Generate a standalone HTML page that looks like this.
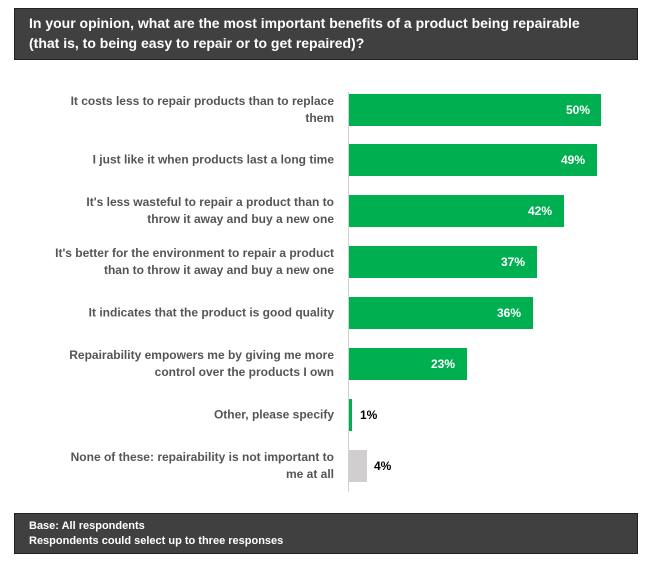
<!DOCTYPE html>
<html><head><style>
body{margin:0;width:654px;height:570px;background:#fff;font-family:"Liberation Sans",sans-serif;position:relative;overflow:hidden}
.box{position:absolute;left:14px;width:624px;background:#404040;border:1px solid #222;color:#fff;font-weight:bold}
.lab{position:absolute;right:320px;width:330px;text-align:right;color:#555;font-size:12px;font-weight:bold;line-height:17px;transform:translateY(-50%);white-space:nowrap}
.bar{position:absolute;left:349px;height:32px}
.v{position:absolute;font-size:12px;font-weight:bold;transform:translateY(-50%)}
</style></head><body>
<div class="box" style="top:8px;height:52px;font-size:14px;line-height:20px;padding:4px 0 0 14px;box-sizing:border-box">In your opinion, what are the most important benefits of a product being repairable<br>(that is, to being easy to repair or to get repaired)?</div>
<div style="position:absolute;left:348px;top:92px;width:1px;height:400px;background:#d0d0d0"></div>

<div class="lab" style="top:110px">It costs less to repair products than to replace<br>them</div>
<div class="bar" style="top:94px;width:252px;background:#00b050"></div><div class="v" style="top:110px;left:566px;color:#fff">50%</div>

<div class="lab" style="top:160px">I just like it when products last a long time</div>
<div class="bar" style="top:144px;width:248px;background:#00b050"></div><div class="v" style="top:160px;left:561px;color:#fff">49%</div>

<div class="lab" style="top:211px">It's less wasteful to repair a product than to<br>throw it away and buy a new one</div>
<div class="bar" style="top:195px;width:215px;background:#00b050"></div><div class="v" style="top:211px;left:528px;color:#fff">42%</div>

<div class="lab" style="top:262px">It's better for the environment to repair a product<br>than to throw it away and buy a new one</div>
<div class="bar" style="top:246px;width:188px;background:#00b050"></div><div class="v" style="top:262px;left:501px;color:#fff">37%</div>

<div class="lab" style="top:313px">It indicates that the product is good quality</div>
<div class="bar" style="top:297px;width:184px;background:#00b050"></div><div class="v" style="top:313px;left:497px;color:#fff">36%</div>

<div class="lab" style="top:364px">Repairability empowers me by giving me more<br>control over the products I own</div>
<div class="bar" style="top:348px;width:118px;background:#00b050"></div><div class="v" style="top:364px;left:431px;color:#fff">23%</div>

<div class="lab" style="top:415px">Other, please specify</div>
<div class="bar" style="top:399px;width:3px;background:#00b050"></div><div class="v" style="top:415px;left:360px;color:#000">1%</div>

<div class="lab" style="top:466px">None of these: repairability is not important to<br>me at all</div>
<div class="bar" style="top:450px;width:18px;background:#d0cece"></div><div class="v" style="top:466px;left:374px;color:#000">4%</div>

<div class="box" style="top:513px;height:41px;font-size:11px;line-height:15px;padding:5px 0 0 14px;box-sizing:border-box">Base: All respondents<br>Respondents could select up to three responses</div>
</body></html>
